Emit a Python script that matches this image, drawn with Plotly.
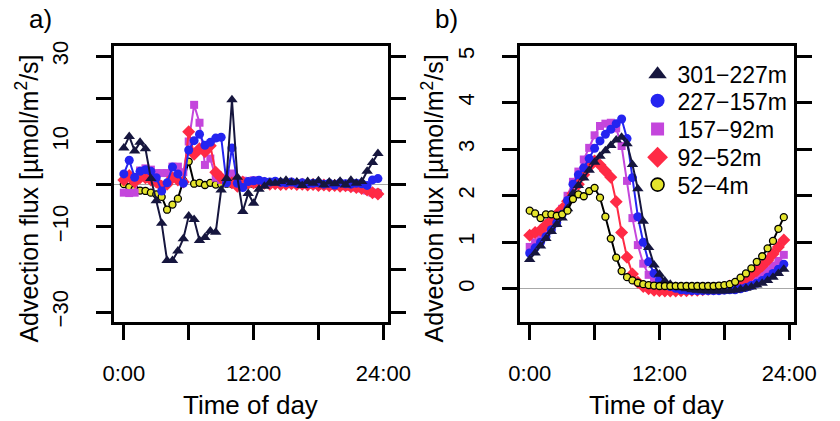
import plotly.graph_objects as go

# ---------------- data ----------------
hours = [0.0, 0.5, 1.0, 1.5, 2.0, 2.5, 3.0, 3.5, 4.0, 4.5, 5.0, 5.5,
         6.0, 6.5, 7.0, 7.5, 8.0, 8.5, 9.0, 9.5, 10.0, 10.5, 11.0, 11.5,
         12.0, 12.5, 13.0, 13.5, 14.0, 14.5, 15.0, 15.5, 16.0, 16.5, 17.0, 17.5,
         18.0, 18.5, 19.0, 19.5, 20.0, 20.5, 21.0, 21.5, 22.0, 22.5, 23.0, 23.5]

series_names = ["301\u2212227m", "227\u2212157m", "157\u221292m", "92\u221252m", "52\u22124m"]

# panel a) advection flux
a_301_227 = [8.5, 11.2, 7.8, 9.8, 8.3, 1.3, -3.9, -9.2,
             -17.9, -17.9, -15.7, -12.8, -7.5, -8.3, -13.2, -12.5,
             -11.0, -11.3, -1.4, 1.3, 19.8, 1.6, -6.4, -2.2,
             -4.5, -1.2, -0.5, 0.3, 0.2, 0.6, 0.9, 0.3,
             0.5, -0.3, 0.6, 0.2, 0.8, -0.2, 0.5, 0.1,
             0.7, -0.2, 0.9, 0.2, 0.6, 3.0, 5.1, 7.2]
a_227_157 = [2.4, 5.6, 1.6, 3.0, 3.4, 3.0, 1.5, -1.6,
             0.3, 4.0, 2.4, 0.2, 8.0, 10.2, 11.7, 9.1,
             9.8, 10.8, 11.0, 0.3, 8.5, 0.2, -0.8, 0.6,
             0.8, 0.9, 0.6, 0.5, 0.7, 0.4, 0.3, 0.5,
             0.2, 0.3, 0.1, 0.2, 0.3, 0.0, 0.2, -0.2,
             0.3, 0.1, 0.0, 0.2, 0.1, -0.3, 1.0, 1.3]
a_157_92 = [-2.0, -2.1, -2.0, 3.2, 3.7, 3.4, 2.6, 2.6,
            2.6, 4.1, 4.1, 2.8, 10.0, 18.6, 14.4, 4.5,
            6.0, 1.5, 1.0, 0.3, 2.5, 0.2, 0.8, 0.5,
            0.9, 0.6, 0.4, 0.5, 0.3, 0.2, 0.1, 0.0,
            0.1, -0.1, 0.0, -0.2, -0.1, -0.3, -0.2, -0.4,
            -0.3, -0.5, -0.6, -0.8, -1.0, -1.5, -2.0, -2.2]
a_92_52 = [1.0, 2.0, 0.5, 1.5, 1.5, 1.0, 0.5, -0.5,
           0.0, 1.5, 1.0, 0.5, 12.3, 7.0, 8.3, 7.6,
           9.0, 2.8, 1.5, 0.8, 0.3, -0.5, 0.5, 0.2,
           0.3, 0.1, 0.2, 0.0, 0.1, -0.1, 0.0, 0.1,
           -0.1, 0.0, -0.2, -0.1, -0.3, -0.2, -0.4, -0.3,
           -0.5, -0.4, -0.6, -0.8, -1.0, -1.4, -2.0, -2.3]
a_52_4 = [0.0, -0.7, -1.2, -1.5, -1.6, -2.0, -2.4, -3.0,
          -6.0, -4.8, -3.4, 0.8, 5.3, 0.1, 0.3, -0.2,
          0.3, -0.1, 0.0, 0.1, 0.0, 0.0, 0.0, 0.0,
          0.0, 0.0, 0.0, 0.0, 0.0, 0.0, 0.0, 0.0,
          0.0, 0.0, 0.0, 0.0, 0.0, 0.0, 0.0, 0.0,
          0.0, 0.0, 0.0, 0.0, -0.5, -1.5, -2.0, -2.0]

# panel b) advection flux
b_301_227 = [0.63, 0.77, 0.92, 1.08, 1.23, 1.38, 1.52, 1.72,
             2.05, 2.22, 2.38, 2.55, 2.72, 2.85, 2.97, 3.08,
             3.20, 3.26, 3.12, 2.67, 2.15, 1.45, 0.89, 0.51,
             0.31, 0.17, 0.10, 0.05, 0.02, 0.00, -0.02, -0.03,
             -0.04, -0.05, -0.05, -0.05, -0.05, -0.04, -0.03, -0.01,
             0.01, 0.04, 0.08, 0.12, 0.18, 0.25, 0.33, 0.42]
b_227_157 = [0.77, 0.88, 1.00, 1.12, 1.27, 1.42, 1.60, 1.90,
             2.25, 2.45, 2.60, 2.80, 3.02, 3.18, 3.32, 3.43,
             3.55, 3.65, 3.23, 2.39, 1.55, 1.00, 0.58, 0.33,
             0.19, 0.10, 0.05, 0.01, -0.02, -0.03, -0.04, -0.04,
             -0.04, -0.04, -0.04, -0.04, -0.03, -0.02, -0.02, 0.00,
             0.03, 0.07, 0.12, 0.18, 0.25, 0.33, 0.42, 0.53]
b_157_92 = [0.90, 1.00, 1.10, 1.20, 1.35, 1.52, 1.72, 2.00,
            2.30, 2.52, 2.78, 3.03, 3.30, 3.50, 3.55, 3.57,
            3.45, 3.07, 2.32, 1.52, 0.94, 0.54, 0.30, 0.16,
            0.08, 0.03, 0.00, -0.02, -0.03, -0.03, -0.03, -0.03,
            -0.03, -0.03, -0.03, -0.03, -0.02, 0.01, 0.05, 0.09,
            0.14, 0.19, 0.25, 0.32, 0.40, 0.50, 0.60, 0.73]
b_92_52 = [1.15, 1.21, 1.26, 1.37, 1.47, 1.60, 1.72, 1.88,
           2.05, 2.25, 2.45, 2.63, 2.75, 2.66, 2.53, 2.40,
           1.87, 1.21, 0.68, 0.32, 0.14, 0.05, 0.00, -0.03,
           -0.04, -0.05, -0.05, -0.05, -0.04, -0.04, -0.03, -0.03,
           -0.02, -0.01, 0.00, 0.01, 0.03, 0.06, 0.10, 0.15,
           0.22, 0.30, 0.39, 0.49, 0.61, 0.75, 0.90, 1.05]
b_52_4 = [1.68, 1.62, 1.52, 1.60, 1.60, 1.57, 1.60, 1.68,
          1.93, 2.03, 1.99, 2.10, 2.17, 1.96, 1.55, 1.08,
          0.67, 0.38, 0.25, 0.18, 0.13, 0.10, 0.08, 0.07,
          0.06, 0.06, 0.06, 0.06, 0.06, 0.06, 0.06, 0.06,
          0.06, 0.06, 0.06, 0.07, 0.08, 0.10, 0.15, 0.24,
          0.33, 0.44, 0.58, 0.70, 0.87, 1.03, 1.29, 1.54]

x_tick_vals = [0, 12, 24]
x_tick_text = ["0:00", "12:00", "24:00"]
x_minor_step = 6
ya_tick_vals = [-30, -10, 10, 30]
ya_tick_text = ["\u221230", "\u221210", "10", "30"]
ya_minor_step = 10
yb_tick_vals = [0, 1, 2, 3, 4, 5]
yb_tick_text = ["0", "1", "2", "3", "4", "5"]

# ---------------- styles ----------------
FONT = "Liberation Sans, Arial, Helvetica, sans-serif"
styles = {
    "301\u2212227m": dict(color="#16163e", symbol="triangle-up", size=10, line="#16163e", mline=0, lsize=16),
    "227\u2212157m": dict(color="#2424f0", symbol="circle", size=9, line="#2424f0", mline=0, lsize=14),
    "157\u221292m": dict(color="#c446dc", symbol="square", size=8, line="#c446dc", mline=0, lsize=13),
    "92\u221252m": dict(color="#ff2a45", symbol="diamond", size=10, line="#ff2a45", mline=0, lsize=16),
    "52\u22124m": dict(color="#e4e42c", symbol="circle", size=7, line="#000000", mline=1.3, lsize=13),
}

panel_a = dict(zip(series_names, [a_301_227, a_227_157, a_157_92, a_92_52, a_52_4]))
panel_b = dict(zip(series_names, [b_301_227, b_227_157, b_157_92, b_92_52, b_52_4]))

order_a = ["52\u22124m", "157\u221292m", "92\u221252m", "227\u2212157m", "301\u2212227m"]
order_b = ["157\u221292m", "92\u221252m", "227\u2212157m", "301\u2212227m", "52\u22124m"]

fig = go.Figure()
for data, xa, ya, order in [(panel_a, "x", "y", order_a), (panel_b, "x2", "y2", order_b)]:
    for name in order:
        s = styles[name]
        fig.add_trace(go.Scatter(
            x=hours, y=data[name], xaxis=xa, yaxis=ya, mode="lines+markers",
            showlegend=False, cliponaxis=False,
            line=dict(color=s["line"], width=2),
            marker=dict(symbol=s["symbol"], size=s["size"], color=s["color"],
                        line=dict(color="#000000", width=s["mline"]))))

# legend entries (marker only), one legend per row for R-like spacing
legend_ids = ["legend", "legend2", "legend3", "legend4", "legend5"]
row_tops = [49, 76, 105, 134, 162]
for name, lid in zip(series_names, legend_ids):
    s = styles[name]
    fig.add_trace(go.Scatter(
        x=[None], y=[None], xaxis="x2", yaxis="y2", mode="markers", name=name,
        legend=lid,
        marker=dict(symbol=s["symbol"], size=s["lsize"], color=s["color"],
                    line=dict(color="#000000", width=s["mline"] * 1.2))))

tick_style = dict(ticks="outside", ticklen=15, tickwidth=3, tickcolor="black")
xr = [-0.94, 24.44]
ydom = [96 / 421, 379 / 421]
common_x = dict(range=xr, tickvals=x_tick_vals, ticktext=x_tick_text, **tick_style,
                minor=dict(dtick=x_minor_step, tick0=0, showgrid=False, **tick_style),
                showline=True, linewidth=3,
                linecolor="black", mirror=True, showgrid=False, zeroline=False,
                tickfont=dict(size=22, color="black", family=FONT), ticklabelstandoff=14)
common_y = dict(**tick_style, showline=True,
                linewidth=3, linecolor="black", mirror="allticks", showgrid=False,
                zeroline=True, zerolinecolor="#a8a8a8", zerolinewidth=1, tickangle=-90,
                tickfont=dict(size=22, color="black", family=FONT), ticklabelstandoff=19)

layout_legends = {}
for lid, top in zip(legend_ids, row_tops):
    layout_legends[lid] = dict(x=653 / 840, y=1 - top / 421, xanchor="left", yanchor="top",
                               bgcolor="rgba(0,0,0,0)", borderwidth=0,
                               font=dict(size=23, family=FONT, color="black"))

fig.update_layout(
    width=840, height=421, margin=dict(l=0, r=0, t=0, b=0),
    paper_bgcolor="white", plot_bgcolor="white",
    font=dict(family=FONT, color="black"),
    xaxis=dict(domain=[107 / 840, 393 / 840], anchor="y", **common_x),
    yaxis=dict(domain=ydom, anchor="x", range=[-32.4, 32.4], tickvals=ya_tick_vals,
               ticktext=ya_tick_text,
               minor=dict(dtick=ya_minor_step, tick0=0, showgrid=False, **tick_style),
               **common_y),
    xaxis2=dict(domain=[530 / 840, 816 / 840], anchor="y2", **common_x),
    yaxis2=dict(domain=ydom, anchor="x2", range=[-0.72, 5.22], tickvals=yb_tick_vals,
                ticktext=yb_tick_text, **common_y),
    **layout_legends,
)

ytitle = "Advection flux [\u00b5mol/m<sup>2</sup>/s]"
annotations = [
    dict(text="Time of day", x=250 / 840, y=1 - 410 / 421, size=26),
    dict(text="Time of day", x=673 / 840, y=1 - 410 / 421, size=26),
    dict(text=ytitle, x=17 / 840, y=1 - 198 / 421, textangle=-90, size=25),
    dict(text=ytitle, x=440 / 840, y=1 - 198 / 421, textangle=-90, size=25),
]
for an in annotations:
    sz = an.pop("size")
    fig.add_annotation(xref="paper", yref="paper", showarrow=False, xanchor="center",
                       yanchor="middle", font=dict(size=sz, family=FONT, color="black"), **an)
for txt, px in [("a)", 17), ("b)", 440)]:
    fig.add_annotation(text=txt, xref="paper", yref="paper", x=px / 840, y=1 - 14 / 421,
                       xanchor="left", yanchor="middle", showarrow=False,
                       font=dict(size=26, family=FONT, color="black"))

fig.write_html("out.html")
